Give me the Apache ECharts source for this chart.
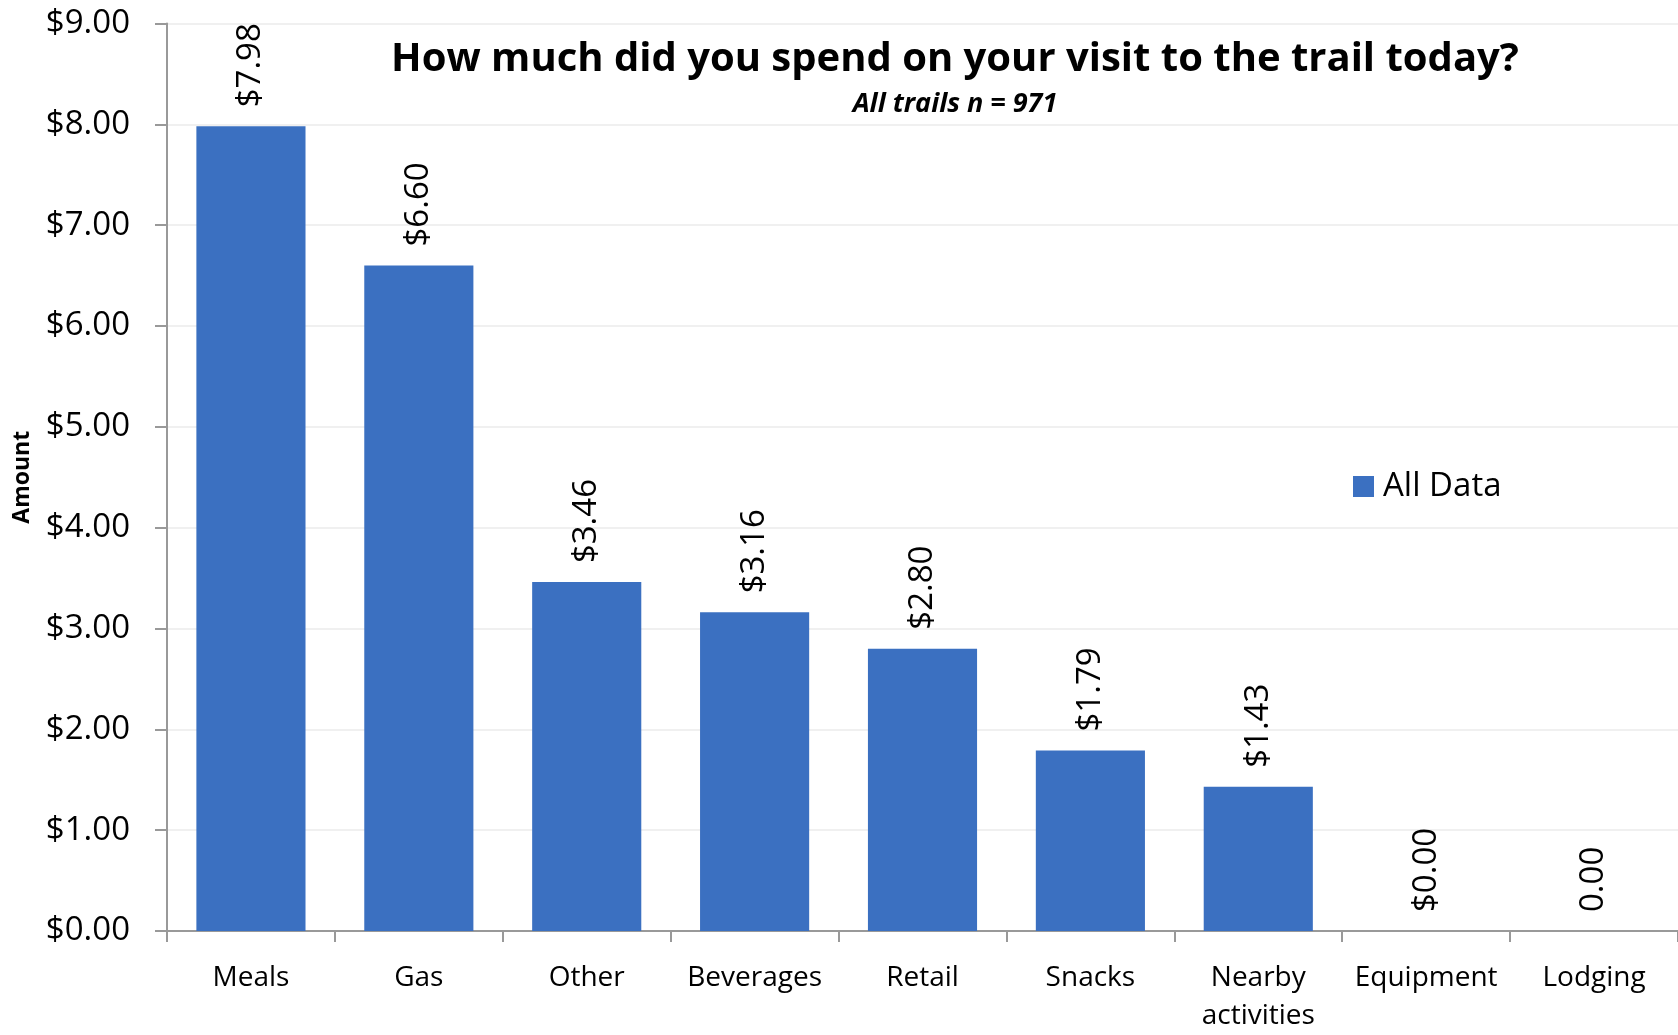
<!DOCTYPE html>
<html>
<head>
<meta charset="utf-8">
<script src="https://cdn.jsdelivr.net/npm/echarts@6/dist/echarts.min.js"></script>
<style>html,body{margin:0;padding:0;background:#fff;}#c{width:1678px;height:1035px;}</style>
</head>
<body>
<div id="c"></div>
<script>
const categories = ["Meals", "Gas", "Other", "Beverages", "Retail", "Snacks", "Nearby\nactivities", "Equipment", "Lodging"];
const values = [7.98, 6.60, 3.46, 3.16, 2.80, 1.79, 1.43, 0.00, 0.00];
const valueLabels = ["$7.98", "$6.60", "$3.46", "$3.16", "$2.80", "$1.79", "$1.43", "$0.00", "0.00"];
const yTicks = [0, 1, 2, 3, 4, 5, 6, 7, 8, 9];

const FONT = '"Open Sans", "Noto Sans", sans-serif';
const chart = echarts.init(document.getElementById('c'));
chart.setOption({
  backgroundColor: '#fff',
  animation: false,
  textStyle: { fontFamily: FONT },
  title: [
    { text: 'How much did you spend on your visit to the trail today?', left: 955, top: 40, textAlign: 'center', padding: 0,
      textStyle: { fontFamily: FONT, fontSize: 40, fontWeight: 'bold', color: '#000' } },
    { text: 'All trails n = 971', left: 955, top: 91, textAlign: 'center', padding: 0,
      textStyle: { fontFamily: FONT, fontSize: 27, fontWeight: 'bold', fontStyle: 'italic', color: '#000' } }
  ],
  legend: {
    data: ['All Data'], left: 1353, top: 470, itemWidth: 21, itemHeight: 21, itemGap: 10, padding: 0,
    icon: 'rect',
    textStyle: { fontFamily: FONT, fontSize: 33, color: '#000', padding: [0, 0, 0, 4] }
  },
  grid: { left: 167, right: 0, top: 23.5, bottom: 93, containLabel: false },
  xAxis: {
    type: 'category', data: categories,
    axisLine: { lineStyle: { color: '#999', width: 2 } },
    axisTick: { show: true, length: 11, lineStyle: { color: '#999', width: 2 } },
    axisLabel: { color: '#000', fontSize: 28, margin: 28, lineHeight: 38, interval: 0, fontFamily: FONT }
  },
  yAxis: {
    type: 'value', min: yTicks[0], max: yTicks[yTicks.length - 1], interval: 1,
    name: 'Amount', nameLocation: 'middle', nameRotate: 90, nameGap: 133,
    nameTextStyle: { fontSize: 23, fontWeight: 'bold', color: '#000', fontFamily: FONT },
    axisLine: { show: true, lineStyle: { color: '#999', width: 2 } },
    axisTick: { show: true, length: 12, lineStyle: { color: '#999', width: 2 } },
    axisLabel: { color: '#000', fontSize: 33, margin: 37, fontFamily: FONT,
      formatter: v => '$' + v.toFixed(2) },
    splitLine: { show: true, lineStyle: { color: '#f0f0f0', width: 2 } }
  },
  series: [{
    name: 'All Data', type: 'bar', data: values, barWidth: '65%',
    itemStyle: { color: '#3b70c1' },
    label: {
      show: true, position: 'top', rotate: 90, align: 'left', verticalAlign: 'middle', distance: 19,
      fontSize: 33, color: '#000', fontFamily: FONT,
      formatter: p => valueLabels[p.dataIndex]
    }
  }]
});
</script>
</body>
</html>
